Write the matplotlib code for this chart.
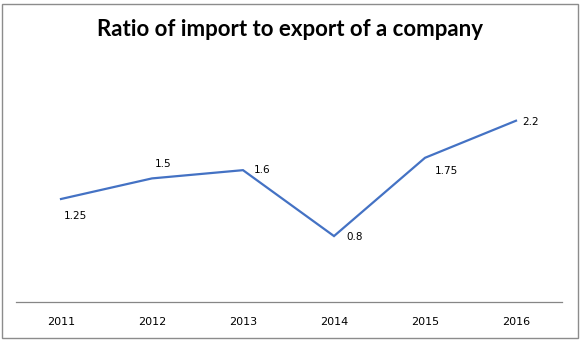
import matplotlib
matplotlib.use("Agg")
import matplotlib.pyplot as plt
from matplotlib.patches import Rectangle

years = ["2011", "2012", "2013", "2014", "2015", "2016"]
ratios = [1.25, 1.5, 1.6, 0.8, 1.75, 2.2]
value_labels = ["1.25", "1.5", "1.6", "0.8", "1.75", "2.2"]

W, H, DPI = 581, 341, 100
fig = plt.figure(figsize=(W / DPI, H / DPI), dpi=DPI)

# outer chart border
fig.patches.append(Rectangle((2.5 / W, 3.5 / H), 575.5 / W, 334 / H,
                             transform=fig.transFigure, fill=False,
                             edgecolor="#8c8c8c", linewidth=1.0))

# plot area: zero line at y=302px, 82.4 px per unit
y0_px = 302
px_per_unit = 82.4
ymax = 2.5
left, right = 15.5, 561.5
ax = fig.add_axes([left / W, (H - y0_px) / H, (right - left) / W,
                   ymax * px_per_unit / H])
x = list(range(len(years)))
ax.plot(x, ratios, color="#4472C4", linewidth=1.6, solid_joinstyle="miter")
ax.set_xlim(-0.5, len(years) - 0.5)
ax.set_ylim(0, ymax)

for s in ["top", "right", "left"]:
    ax.spines[s].set_visible(False)
ax.spines["bottom"].set_color("#868686")
ax.spines["bottom"].set_linewidth(0.9)
ax.set_yticks([])
ax.set_xticks(x)
ax.set_xticklabels(years, fontsize=8, family="DejaVu Sans", color="#000000")
ax.tick_params(axis="x", length=0, pad=11)

# data labels with per-point offsets (points)
offsets = [(2, -12), (2, 10.5), (8, 0), (9, -0.5), (7, -9.5), (4.5, -1)]
for xi, yi, lab, (dx, dy) in zip(x, ratios, value_labels, offsets):
    ax.annotate(lab, (xi, yi), xytext=(dx, dy), textcoords="offset points",
                ha="left", va="center", fontsize=7.5, family="DejaVu Sans")

fig.text(290 / W, 1 - 29 / H, "Ratio of import to export of a company",
         ha="center", va="center", fontsize=16, fontweight="bold",
         family="Lato")

fig.savefig("out.png", dpi=DPI)
